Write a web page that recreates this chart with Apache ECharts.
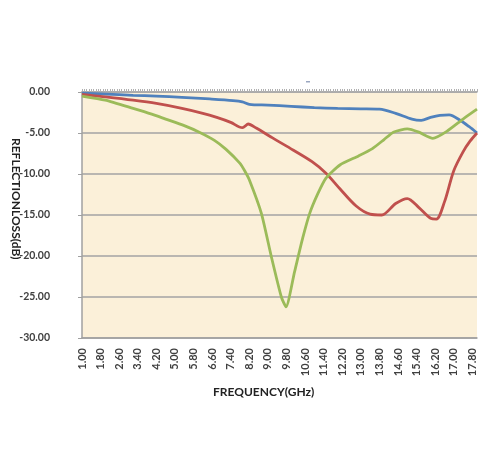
<!DOCTYPE html>
<html><head><meta charset="utf-8">
<script src="https://cdn.jsdelivr.net/npm/echarts@6/dist/echarts.min.js"></script>
<style>html,body{margin:0;padding:0;background:#fff}#c{width:497px;height:450px}</style>
</head><body><div id="c"></div>
<script>
var xTickLabels = [1.0,1.8,2.6,3.4,4.2,5.0,5.8,6.6,7.4,8.2,9.0,9.8,10.6,11.4,12.2,13.0,13.8,14.6,15.4,16.2,17.0,17.8];
var yTickLabels = [0,-5,-10,-15,-20,-25,-30];

var blueFreq = [1.0,2.0,3.2,4.2,5.3,6.5,7.5,7.9,8.2,9.0,10.0,11.0,12.0,13.0,13.8,14.5,15.2,15.6,16.0,16.4,16.8,17.3,17.65,18.0];
var blueLoss = [-0.15,-0.25,-0.4,-0.5,-0.65,-0.85,-1.05,-1.2,-1.5,-1.6,-1.75,-1.9,-2.0,-2.05,-2.1,-2.6,-3.3,-3.45,-3.1,-2.85,-2.8,-3.5,-4.2,-5.0];

var redFreq = [1.0,2.0,3.2,4.2,5.3,6.2,6.8,7.4,7.9,8.0,8.15,8.5,9.2,10.1,10.9,11.5,12.1,12.8,13.4,13.9,14.5,15.0,15.5,16.0,16.25,16.6,17.0,17.4,17.7,18.0];
var redLoss = [-0.3,-0.6,-1.0,-1.4,-2.0,-2.6,-3.1,-3.7,-4.35,-4.2,-3.9,-4.4,-5.6,-7.1,-8.5,-9.9,-11.8,-13.9,-14.9,-15.0,-13.6,-13.0,-14.1,-15.4,-15.5,-13.4,-9.6,-7.3,-6.0,-5.0];

var greenFreq = [1.0,2.0,3.2,4.0,4.6,5.4,6.05,6.7,7.2,7.8,8.0,8.2,8.72,9.15,9.58,9.78,10.15,10.5,10.8,11.15,11.5,12.1,12.9,13.5,14.0,14.4,15.0,15.5,16.1,16.7,17.4,18.0];
var greenLoss = [-0.5,-1.0,-2.0,-2.7,-3.3,-4.1,-4.9,-5.9,-7.0,-8.7,-9.6,-10.7,-14.8,-20.1,-25.0,-26.2,-21.9,-17.8,-14.8,-12.4,-10.5,-8.9,-7.8,-6.9,-5.8,-4.9,-4.5,-4.9,-5.65,-4.8,-3.3,-2.1];

function pairs(xs, ys){ return xs.map(function(x,i){ return [x, ys[i]]; }); }

var chart = echarts.init(document.getElementById('c'));
var L = 82, R = 477, T = 92, B = 338;
chart.setOption({
  animation: false,
  backgroundColor: '#fff',
  grid: {left: L, right: 497 - R, top: T, bottom: 450 - B, show: true, backgroundColor: '#FBF0D9', borderWidth: 0},
  xAxis: [{
    type: 'value', min: 1, max: 18,
    axisLine: {show: true, onZero: false, lineStyle: {color: '#A0A0A0', width: 1.5}},
    axisTick: {show: false},
    splitLine: {show: false},
    axisLabel: {
      customValues: xTickLabels, rotate: 90, margin: 10,
      fontFamily: 'Lato', fontSize: 11, fontWeight: 'bold', color: '#404040',
      formatter: function(v){ return v.toFixed(2); }
    }
  },{
    type: 'value', min: 1, max: 18, interval: 0.1, position: 'top',
    axisLine: {show: true, onZero: false, lineStyle: {color: '#A8A8A8', width: 1.5}},
    axisTick: {show: true, length: 3, inside: false, lineStyle: {color: '#B0B0B0', width: 1}},
    axisLabel: {show: false},
    splitLine: {show: false}
  }],
  yAxis: {
    type: 'value', min: yTickLabels[6], max: yTickLabels[0], interval: 5,
    axisLine: {show: true, onZero: false, lineStyle: {color: '#A0A0A0', width: 1.5}},
    axisTick: {show: true, length: 4, lineStyle: {color: '#A0A0A0'}},
    splitLine: {show: true, lineStyle: {color: '#A3A3A3', width: 1.5}},
    axisLabel: {
      margin: 32,
      fontFamily: 'Lato', fontSize: 10.5, fontWeight: 'bold', color: '#404040',
      formatter: function(v){ return v.toFixed(2); }
    }
  },
  graphic: [
    {type: 'text', left: 213, top: 386, style: {text: 'FREQUENCY(GHz)', font: 'bold 12px Lato', fill: '#222'}},
    {type: 'text', x: 16, y: 138, rotation: -Math.PI/2, style: {text: 'REFLECTIONLOSS(dB)', font: 'bold 12px Lato', fill: '#222', textAlign: 'left', textVerticalAlign: 'middle'}},
    {type: 'rect', shape: {x: 306, y: 81, width: 4, height: 1.5}, style: {fill: '#9AA6C0'}}
  ],
  series: [
    {type: 'line', name: 'blue', data: pairs(blueFreq, blueLoss), smooth: 0.3, showSymbol: false, lineStyle: {color: '#4F81BD', width: 2.8}, itemStyle: {color: '#4F81BD'}},
    {type: 'line', name: 'red', data: pairs(redFreq, redLoss), smooth: 0.3, showSymbol: false, lineStyle: {color: '#C0504D', width: 2.8}, itemStyle: {color: '#C0504D'}},
    {type: 'line', name: 'green', data: pairs(greenFreq, greenLoss), smooth: 0.2, showSymbol: false, lineStyle: {color: '#9BBB59', width: 2.8}, itemStyle: {color: '#9BBB59'}}
  ]
});
</script>
</body></html>
